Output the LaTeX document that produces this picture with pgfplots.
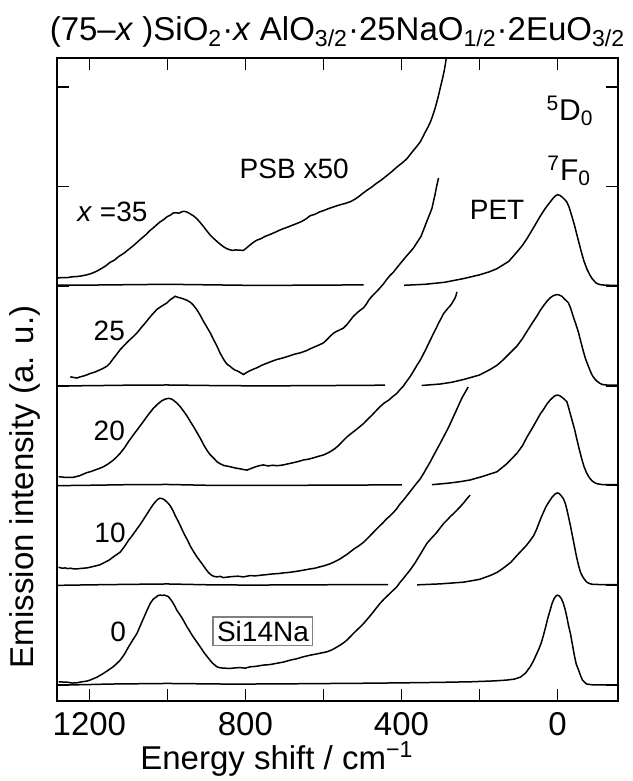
\documentclass[border=0pt]{standalone}
\usepackage{fontspec}
\setmainfont{Liberation Sans}
\usepackage{pgfplots}
\pgfplotsset{compat=1.18}
\usepackage{pgfplotstable}

% PSB x50 spectra (local heights, each panel shifted by its offset)
\pgfplotstableread{
x y
1283 0.082
1270 0.088
1258 0.086
1245 0.095
1232 0.098
1220 0.104
1207 0.115
1195 0.128
1182 0.150
1170 0.176
1158 0.205
1147 0.240
1136 0.262
1125 0.298
1112 0.330
1100 0.368
1088 0.405
1078 0.440
1066 0.482
1055 0.518
1045 0.558
1035 0.590
1026 0.622
1019 0.645
1010 0.668
1000 0.700
993 0.712
985 0.735
978 0.738
970 0.733
963 0.748
957 0.752
950 0.745
942 0.728
933 0.706
925 0.680
916 0.640
908 0.602
899 0.556
890 0.512
881 0.478
873 0.450
864 0.420
856 0.396
848 0.378
840 0.366
833 0.360
825 0.365
815 0.362
805 0.360
797 0.385
788 0.415
780 0.440
771 0.462
760 0.478
750 0.500
738 0.518
725 0.540
714 0.560
703 0.578
690 0.596
680 0.612
668 0.630
657 0.648
645 0.675
634 0.708
622 0.722
610 0.746
598 0.762
583 0.785
570 0.802
557 0.818
545 0.830
531 0.848
520 0.872
510 0.898
500 0.930
489 0.962
478 0.990
465 1.030
452 1.065
437 1.112
425 1.150
410 1.202
398 1.238
386 1.280
378 1.320
370 1.360
361 1.402
352 1.448
345 1.500
340 1.540
333 1.590
326 1.647
320 1.710
315 1.770
310 1.840
305 1.915
300 2.000
295 2.080
290 2.170
285 2.290
280 2.400
}\psbA

\pgfplotstableread{
x y
1249 0.092
1240 0.085
1232 0.080
1223 0.092
1215 0.100
1206 0.112
1198 0.125
1187 0.138
1175 0.158
1165 0.176
1155 0.198
1147 0.230
1140 0.268
1130 0.318
1121 0.365
1110 0.410
1100 0.450
1089 0.490
1078 0.532
1066 0.590
1055 0.640
1047 0.680
1040 0.712
1033 0.742
1027 0.768
1015 0.800
1001 0.834
992 0.868
985 0.885
980 0.900
972 0.888
965 0.882
958 0.872
950 0.860
942 0.842
935 0.818
925 0.768
916 0.710
908 0.652
899 0.592
890 0.532
882 0.468
873 0.400
865 0.330
856 0.268
850 0.232
845 0.212
840 0.200
835 0.182
827 0.160
820 0.150
812 0.132
805 0.115
797 0.135
790 0.150
780 0.168
771 0.182
758 0.208
745 0.228
732 0.248
720 0.265
705 0.280
690 0.298
675 0.318
660 0.332
645 0.352
630 0.380
615 0.405
600 0.432
592 0.462
583 0.498
574 0.530
565 0.550
557 0.565
549 0.580
540 0.615
531 0.660
523 0.700
512 0.740
503 0.768
497 0.785
490 0.822
484 0.860
478 0.890
472 0.915
463 0.950
455 0.984
446 1.025
438 1.068
429 1.110
421 1.140
412 1.185
401 1.238
390 1.290
380 1.335
369 1.385
360 1.440
350 1.500
342 1.580
335 1.652
328 1.720
322 1.780
318 1.850
314 1.920
310 2.000
305 2.087
}\psbB

\pgfplotstableread{
x y
1279 0.090
1268 0.086
1260 0.082
1250 0.084
1241 0.084
1233 0.092
1225 0.100
1216 0.115
1207 0.130
1196 0.142
1185 0.158
1175 0.172
1164 0.190
1152 0.218
1140 0.252
1130 0.288
1121 0.325
1110 0.380
1100 0.440
1089 0.500
1078 0.558
1066 0.620
1055 0.680
1045 0.732
1036 0.776
1025 0.818
1015 0.850
1006 0.868
997 0.876
990 0.870
985 0.858
976 0.830
967 0.792
958 0.745
950 0.700
942 0.648
933 0.592
924 0.532
915 0.470
907 0.410
899 0.358
892 0.318
885 0.290
878 0.262
873 0.240
864 0.218
855 0.202
847 0.196
839 0.190
827 0.178
815 0.170
805 0.162
796 0.156
786 0.172
775 0.188
765 0.200
754 0.208
742 0.198
730 0.205
718 0.200
703 0.208
692 0.218
680 0.228
665 0.242
651 0.258
638 0.266
625 0.280
612 0.295
600 0.308
592 0.322
583 0.340
572 0.368
562 0.400
551 0.445
540 0.488
530 0.520
520 0.550
508 0.588
497 0.624
486 0.668
475 0.710
465 0.752
455 0.792
444 0.830
432 0.860
422 0.895
412 0.925
404 0.962
395 1.000
387 1.045
378 1.093
369 1.150
360 1.210
351 1.265
343 1.326
336 1.380
330 1.430
324 1.478
318 1.527
311 1.580
305 1.630
298 1.680
292 1.727
286 1.755
281 1.780
276 1.800
271 1.827
266 1.860
263 1.880
260 1.910
258 1.944
}\psbC

\pgfplotstableread{
x y
1279 0.182
1270 0.172
1262 0.175
1255 0.168
1249 0.172
1240 0.165
1230 0.166
1222 0.170
1215 0.172
1205 0.176
1195 0.185
1184 0.195
1173 0.206
1162 0.228
1150 0.252
1137 0.290
1121 0.333
1110 0.390
1100 0.450
1089 0.505
1078 0.566
1068 0.620
1060 0.670
1052 0.718
1044 0.767
1037 0.808
1030 0.842
1024 0.865
1019 0.874
1013 0.870
1008 0.860
1000 0.832
993 0.800
986 0.752
980 0.700
973 0.648
967 0.600
961 0.548
955 0.500
948 0.450
942 0.399
934 0.345
925 0.290
916 0.242
908 0.199
901 0.160
895 0.130
888 0.105
882 0.092
874 0.085
865 0.090
856 0.078
848 0.082
835 0.088
820 0.092
805 0.085
788 0.098
775 0.095
760 0.102
745 0.108
730 0.115
716 0.118
703 0.125
688 0.130
670 0.140
652 0.152
634 0.165
622 0.172
610 0.185
597 0.198
583 0.216
570 0.240
557 0.266
548 0.290
540 0.310
530 0.340
520 0.370
508 0.400
497 0.433
486 0.475
475 0.520
465 0.560
455 0.600
448 0.625
440 0.660
430 0.695
420 0.734
412 0.770
405 0.810
395 0.855
386 0.900
378 0.940
370 0.980
361 1.025
352 1.068
343 1.125
335 1.180
326 1.240
318 1.300
309 1.365
300 1.430
290 1.505
280 1.580
270 1.665
260 1.750
252 1.820
245 1.880
237 1.935
229 1.990
}\psbD

\pgfplotstableread{
x y
1279 0.033
1267 0.030
1255 0.028
1244 0.020
1232 0.023
1223 0.030
1215 0.035
1206 0.040
1198 0.050
1189 0.065
1180 0.080
1172 0.098
1164 0.117
1152 0.148
1140 0.180
1130 0.215
1121 0.250
1110 0.310
1100 0.380
1089 0.450
1078 0.518
1069 0.600
1060 0.680
1052 0.752
1044 0.819
1037 0.858
1030 0.880
1024 0.898
1019 0.902
1013 0.900
1008 0.902
1002 0.895
997 0.885
990 0.850
985 0.820
980 0.785
976 0.752
969 0.712
962 0.670
956 0.628
950 0.585
942 0.535
935 0.490
926 0.440
916 0.384
906 0.325
895 0.270
885 0.222
873 0.183
864 0.172
855 0.170
847 0.168
839 0.167
827 0.172
815 0.175
800 0.170
788 0.183
772 0.188
755 0.200
738 0.205
720 0.218
703 0.230
685 0.250
668 0.264
651 0.284
636 0.298
620 0.310
605 0.322
591 0.334
583 0.345
575 0.360
566 0.380
557 0.401
548 0.425
540 0.450
530 0.490
520 0.530
508 0.575
497 0.618
486 0.668
475 0.720
465 0.770
455 0.819
444 0.865
432 0.910
422 0.948
412 0.985
404 1.028
395 1.070
387 1.110
378 1.153
366 1.220
355 1.290
345 1.355
335 1.420
324 1.470
312 1.520
302 1.570
292 1.620
283 1.655
275 1.690
266 1.722
258 1.754
249 1.790
240 1.830
232 1.870
224 1.905
}\psbE

% unscaled spectra: left baseline piece, then PET tail and 5D0-7F0 peak
\pgfplotstableread{
x y
1283 0.012
1200 0.012
1100 0.016
1000 0.020
900 0.015
800 0.010
700 0.010
600 0.012
497 0.014
}\baseA
\pgfplotstableread{
x y
1283 0.000
1200 0.003
1100 0.008
1000 0.010
900 0.005
800 0.002
700 0.002
600 0.004
442 0.008
}\baseB
\pgfplotstableread{
x y
1283 0.000
1200 0.004
1100 0.010
1000 0.012
900 0.004
800 0.002
700 0.003
600 0.005
399 0.008
}\baseC
\pgfplotstableread{
x y
1283 0.000
1200 0.005
1100 0.010
1000 0.014
900 0.006
800 0.003
700 0.004
600 0.006
434 0.008
}\baseD

\pgfplotstableread{
x y
393 0.010
340 0.020
290 0.040
241 0.077
200 0.115
175 0.145
155 0.177
125 0.250
104 0.344
90 0.410
78 0.480
65 0.565
53 0.645
44 0.705
35 0.760
27 0.805
19 0.845
12 0.880
6 0.905
0 0.919
-6 0.912
-12 0.895
-18 0.872
-24 0.845
-30 0.790
-37 0.700
-44 0.605
-50 0.511
-56 0.420
-62 0.330
-68 0.250
-75 0.177
-82 0.120
-88 0.080
-95 0.048
-101 0.027
-110 0.016
-120 0.012
-135 0.010
-155 0.010
}\peakA
\pgfplotstableread{
x y
348 0.005
300 0.020
270 0.038
241 0.065
220 0.088
200 0.110
173 0.165
155 0.208
140 0.260
122 0.330
104 0.400
90 0.475
78 0.550
65 0.630
53 0.700
44 0.760
35 0.810
27 0.850
19 0.884
12 0.903
6 0.913
0 0.917
-6 0.910
-12 0.897
-18 0.872
-24 0.850
-28 0.834
-34 0.775
-40 0.700
-47 0.620
-54 0.533
-60 0.440
-66 0.350
-72 0.270
-79 0.199
-85 0.140
-90 0.100
-96 0.068
-101 0.048
-108 0.028
-115 0.015
-125 0.010
-135 0.008
-155 0.008
}\peakB
\pgfplotstableread{
x y
322 0.010
280 0.025
250 0.040
224 0.057
190 0.095
155 0.140
130 0.220
104 0.325
90 0.400
78 0.490
65 0.575
53 0.658
44 0.720
35 0.770
27 0.820
19 0.859
12 0.885
6 0.903
0 0.909
-6 0.902
-12 0.885
-18 0.865
-24 0.842
-30 0.760
-37 0.660
-44 0.560
-50 0.458
-56 0.360
-62 0.270
-68 0.190
-75 0.124
-82 0.078
-88 0.050
-95 0.030
-101 0.020
-115 0.010
-155 0.010
}\peakC
\pgfplotstableread{
x y
360 0.005
300 0.015
241 0.032
200 0.060
173 0.098
155 0.130
140 0.170
120 0.230
104 0.300
92 0.350
80 0.400
70 0.450
61 0.500
54 0.560
48 0.620
42 0.680
36 0.734
30 0.785
25 0.820
19 0.855
14 0.884
9 0.905
5 0.920
0 0.927
-4 0.922
-8 0.905
-12 0.885
-15 0.870
-20 0.820
-24 0.760
-28 0.690
-33 0.600
-38 0.500
-43 0.400
-48 0.300
-54 0.198
-59 0.130
-64 0.090
-70 0.055
-75 0.032
-82 0.018
-90 0.010
-110 0.008
-155 0.008
}\peakD
\pgfplotstableread{
x y
1283 0.000
1240 0.002
1200 0.005
1150 0.010
1100 0.012
1050 0.014
1000 0.016
950 0.014
900 0.012
850 0.010
800 0.010
700 0.012
600 0.015
500 0.018
400 0.022
300 0.027
220 0.033
160 0.042
130 0.050
110 0.060
95 0.080
82 0.120
70 0.184
62 0.240
55 0.300
48 0.360
42 0.420
36 0.500
30 0.590
25 0.670
19 0.750
14 0.819
9 0.865
5 0.890
0 0.902
-5 0.893
-10 0.865
-15 0.820
-20 0.750
-24 0.680
-28 0.600
-33 0.518
-38 0.410
-43 0.300
-48 0.210
-54 0.150
-59 0.095
-64 0.050
-70 0.025
-75 0.010
-90 0.002
-155 0.000
}\fullE

\newcommand{\lbl}{\fontsize{16.5}{19}\selectfont}
\newcommand{\inlbl}{\fontsize{14}{17}\selectfont}

\begin{document}
\begin{tikzpicture}
\begin{axis}[
    scale only axis, width=280.5pt, height=321.5pt,
    x dir=reverse, xmin=-155, xmax=1283, ymin=-0.16, ymax=6.29,
    xtick={1200,800,400,0}, minor xtick={1000,600,200},
    ytick={0,1,2,3,4,5,6}, yticklabels={},
    tick align=inside, tick pos=both, xticklabel pos=lower,
    major tick length=6pt, minor tick length=6pt,
    every tick/.style={black, line width=0.6pt},
    axis line style={line width=0.7pt},
    /pgf/number format/assume math mode=true,
    /pgf/number format/1000 sep={},
    tick label style={font=\lbl},
    xticklabel style={anchor=base, yshift=-17pt},
    xlabel={Energy shift / cm\textsuperscript{−1}},
    ylabel={Emission intensity (a. u.)},
    every axis x label/.style={at={(axis description cs:0.392,-0.1073)}, anchor=base, font=\lbl},
    every axis y label/.style={at={(axis description cs:-0.057,0.333)}, rotate=90, anchor=center, font=\lbl},
    title={(75–\textit{x} )SiO\textsubscript{2}·\textit{x} AlO\textsubscript{3/2}·25NaO\textsubscript{1/2}·2EuO\textsubscript{3/2}},
    title style={at={(axis description cs:0.5,1)}, anchor=base, yshift=2.5pt, font=\lbl},
    every axis plot post/.append style={black, solid, line width=0.75pt, mark=none},
]
% x = 35 (offset 4)
\addplot table[y expr=\thisrowno{1}+4] {\psbA};
\addplot table[y expr=\thisrowno{1}+4] {\baseA};
\addplot table[y expr=\thisrowno{1}+4] {\peakA};
% x = 25 (offset 3)
\addplot table[y expr=\thisrowno{1}+3] {\psbB};
\addplot table[y expr=\thisrowno{1}+3] {\baseB};
\addplot table[y expr=\thisrowno{1}+3] {\peakB};
% x = 20 (offset 2)
\addplot table[y expr=\thisrowno{1}+2] {\psbC};
\addplot table[y expr=\thisrowno{1}+2] {\baseC};
\addplot table[y expr=\thisrowno{1}+2] {\peakC};
% x = 10 (offset 1)
\addplot table[y expr=\thisrowno{1}+1] {\psbD};
\addplot table[y expr=\thisrowno{1}+1] {\baseD};
\addplot table[y expr=\thisrowno{1}+1] {\peakD};
% x = 0 (Si14Na)
\addplot table {\psbE};
\addplot table {\fullE};

\node[font=\fontsize{15}{18}\selectfont] at (axis cs:-32,5.76) {\textsuperscript{5}D\textsubscript{0}};
\node[font=\fontsize{15}{18}\selectfont] at (axis cs:-30,5.16) {\textsuperscript{7}F\textsubscript{0}};
\node[font=\inlbl] at (axis cs:155,4.77) {PET};
\node[font=\inlbl] at (axis cs:675,5.18) {PSB x50};
\node[font=\inlbl] at (axis cs:1141,4.75) {\textit{x} =35};
\node[font=\inlbl] at (axis cs:1149,3.55) {25};
\node[font=\inlbl] at (axis cs:1149,2.55) {20};
\node[font=\inlbl] at (axis cs:1147,1.53) {10};
\node[font=\inlbl] at (axis cs:1126,0.53) {0};
\node[font=\inlbl, draw=gray, line width=0.6pt, inner sep=2pt] at (axis cs:755,0.54) {Si14Na};
\end{axis}
\pgfresetboundingbox
\path[use as bounding box] (current axis.south west) ++(-28.5pt,-40pt) rectangle ++(316pt,390.5pt);
\end{tikzpicture}
\end{document}
